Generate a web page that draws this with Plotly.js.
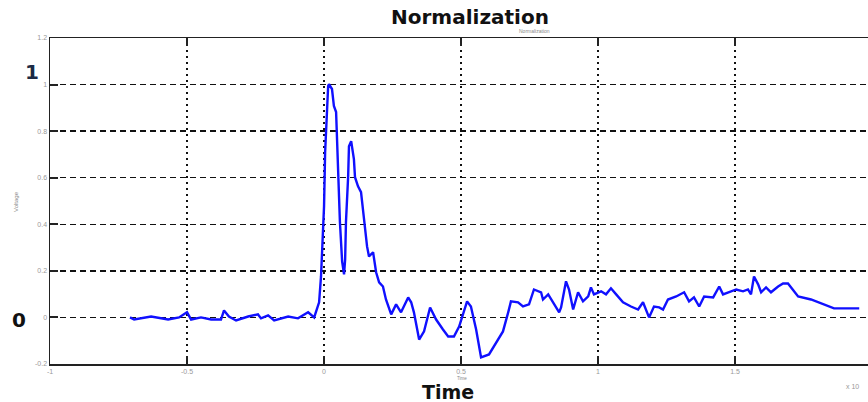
<!DOCTYPE html>
<html>
<head>
<meta charset="utf-8">
<script src="https://cdn.plot.ly/plotly-3.0.1.min.js"></script>
<style>html,body{margin:0;padding:0;background:#fff;}#chart{width:868px;height:402px;}</style>
</head>
<body>
<div id="chart"></div>
<script>
// Time (x 10^?) and normalized voltage
var time = [
 -0.708,-0.693,-0.631,-0.569,-0.529,-0.500,-0.485,-0.449,-0.412,-0.376,-0.365,-0.347,-0.321,-0.277,-0.241,-0.230,-0.204,-0.182,-0.131,-0.095,-0.058,-0.036,-0.018,
 -0.011,0.000,0.004,0.015,0.018,0.029,0.036,0.044,0.051,0.058,0.066,0.073,0.077,0.080,0.088,0.091,0.099,0.109,0.113,0.124,0.135,0.142,0.150,0.157,0.164,0.179,0.190,0.201,0.215,0.226,0.245,0.263,0.281,0.307,0.318,
 0.328,0.347,0.365,0.387,0.409,0.434,0.453,0.474,0.493,0.522,0.536,0.555,0.573,0.602,0.628,0.653,0.672,0.682,0.708,0.726,0.748,
 0.766,0.792,0.799,0.818,0.836,0.858,0.865,0.883,0.894,0.909,0.927,0.945,0.964,0.974,0.985,1.011,1.029,1.047,1.066,1.091,1.120,1.146,1.164,1.186,1.204,1.223,
 1.237,1.255,1.285,1.314,1.332,1.350,1.369,1.387,1.420,1.442,1.456,1.485,1.504,1.529,1.547,1.558,1.569,1.584,1.595,1.613,1.631,1.657,1.675,1.693,1.730,1.777,1.825,1.861,1.912,1.953
];
var voltage = [
 0.000,-0.009,0.004,-0.009,0.000,0.022,-0.009,0.000,-0.009,-0.009,0.030,0.004,-0.013,0.004,0.013,-0.004,0.009,-0.013,0.004,-0.004,0.022,0.000,0.065,
 0.176,0.477,0.710,0.994,1.002,0.981,0.908,0.882,0.637,0.409,0.241,0.185,0.249,0.409,0.606,0.735,0.757,0.680,0.602,0.563,0.538,0.465,0.378,0.305,0.262,0.280,0.194,0.151,0.133,0.077,0.013,0.056,0.022,0.086,0.065,
 0.022,-0.095,-0.060,0.043,-0.009,-0.052,-0.082,-0.082,-0.039,0.069,0.047,-0.052,-0.172,-0.159,-0.108,-0.060,0.022,0.069,0.065,0.047,0.056,
 0.120,0.108,0.077,0.099,0.065,0.022,0.043,0.155,0.120,0.034,0.108,0.069,0.090,0.129,0.099,0.112,0.099,0.125,0.099,0.065,0.047,0.034,0.065,0.000,0.047,0.043,
 0.034,0.077,0.090,0.108,0.069,0.086,0.047,0.090,0.086,0.133,0.099,0.112,0.120,0.112,0.120,0.099,0.176,0.142,0.108,0.129,0.108,0.133,0.146,0.146,0.090,0.077,0.056,0.039,0.039,0.039
];
var xTicks = [-1, -0.5, 0, 0.5, 1, 1.5];
var xTickLabels = ["-1", "-0.5", "0", "0.5", "1", "1.5"];
var yTicks = [-0.2, 0, 0.2, 0.4, 0.6, 0.8, 1, 1.2];
var yTickLabels = ["-0.2", "0", "0.2", "0.4", "0.6", "0.8", "1", "1.2"];

var trace = {
  x: time, y: voltage, type: 'scatter', mode: 'lines',
  line: {color: '#1010ff', width: 2.4},
  hoverinfo: 'skip', showlegend: false
};

var tickFont = {family: 'Liberation Sans, Arial, sans-serif', size: 7, color: '#999'};
var bigFont = {family: 'DejaVu Sans, sans-serif', size: 20, color: '#111'};

var layout = {
  width: 868, height: 402,
  margin: {l: 50, r: 0, t: 38, b: 38, pad: 0},
  paper_bgcolor: '#fff', plot_bgcolor: '#fff',
  showlegend: false,
  xaxis: {
    range: [-1, 1.985], tickmode: 'array', tickvals: xTicks, ticktext: xTickLabels,
    ticks: 'inside', ticklen: 8, tickwidth: 2, tickcolor: '#222',
    showline: true, linecolor: '#222', linewidth: 1.5, mirror: 'ticks',
    showgrid: true, gridcolor: '#111', gridwidth: 2, griddash: '2px,4px',
    zeroline: false, tickfont: tickFont, ticklabelstandoff: 0
  },
  yaxis: {
    range: [-0.2, 1.2], tickmode: 'array', tickvals: yTicks, ticktext: yTickLabels,
    ticks: 'inside', ticklen: 8, tickwidth: 2, tickcolor: '#222',
    showline: true, linecolor: '#222', linewidth: 1.5, mirror: false,
    showgrid: true, gridcolor: '#111', gridwidth: 1.5, griddash: '6px,4px',
    zeroline: false, tickfont: tickFont
  },
  annotations: [
    {text: '<b>Normalization</b>', xref: 'paper', yref: 'paper', x: (470 - 50) / 818, y: 1 + (38 - 17) / 326,
     xanchor: 'center', yanchor: 'middle', showarrow: false, font: bigFont},
    {text: 'Normalization', xref: 'paper', yref: 'paper', x: (534 - 50) / 818, y: 1 + (38 - 31) / 326,
     xanchor: 'center', yanchor: 'middle', showarrow: false, font: {family: 'Liberation Sans, sans-serif', size: 5, color: '#888'}},
    {text: '<b>Time</b>', xref: 'paper', yref: 'paper', x: (448 - 50) / 818, y: -(392 - 364) / 326,
     xanchor: 'center', yanchor: 'middle', showarrow: false, borderpad: 0,
     font: {family: 'DejaVu Sans, sans-serif', size: 19, color: '#111'}},
    {text: 'Time', xref: 'paper', yref: 'paper', x: (462 - 50) / 818, y: -(378.5 - 364) / 326,
     xanchor: 'center', yanchor: 'middle', showarrow: false, borderpad: 0,
     font: {family: 'Liberation Sans, sans-serif', size: 4.5, color: '#888'}},
    {text: 'x 10', xref: 'paper', yref: 'paper', x: (852 - 50) / 818, y: -(386 - 364) / 326,
     xanchor: 'center', yanchor: 'middle', showarrow: false, font: tickFont},
    {text: 'Voltage', xref: 'paper', yref: 'paper', x: -(50 - 16) / 818, y: (364 - 202) / 326,
     xanchor: 'center', yanchor: 'middle', textangle: -90, showarrow: false, font: {family: 'Liberation Sans, sans-serif', size: 6, color: '#888'}},
    {text: '<b>1</b>', xref: 'paper', yref: 'paper', x: -(50 - 32) / 818, y: (364 - 72) / 326,
     xanchor: 'center', yanchor: 'middle', showarrow: false, font: {family: 'DejaVu Sans, sans-serif', size: 20, color: '#1c2a44'}},
    {text: '<b>0</b>', xref: 'paper', yref: 'paper', x: -(50 - 19) / 818, y: (364 - 320) / 326,
     xanchor: 'center', yanchor: 'middle', showarrow: false, font: {family: 'DejaVu Sans, sans-serif', size: 20, color: '#111'}}
  ]
};

Plotly.newPlot('chart', [trace], layout, {staticPlot: true, displayModeBar: false});
</script>
</body>
</html>
